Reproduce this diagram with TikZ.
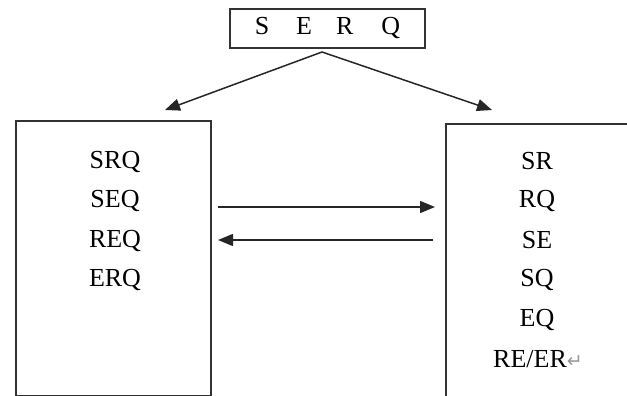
\documentclass[tikz,border=0pt]{standalone}
\usepackage{fontspec}
\setmainfont{Liberation Serif}
\newfontfamily\symfont{DejaVu Sans}
\usetikzlibrary{arrows.meta}
\usetikzlibrary{positioning}

\tikzset{
  box/.style={draw=black!80,line width=1.6pt,inner sep=0pt},
  item/.style={font=\fontsize{26}{30}\selectfont,inner sep=0pt},
  link/.style={line width=1.5pt,draw=black!85,-{Triangle[length=15pt,width=12pt]}}
}

\begin{document}
\begin{tikzpicture}[x=1pt,y=-1pt]
\useasboundingbox (0,0) rectangle (627,396);
\clip (0,0) rectangle (627,396);
% top box
\node[box,minimum width=195pt,minimum height=39pt,item] (T) at (327.5,28.5)
  {S\hspace{27pt}E\hspace{24pt}R\hspace{28pt}Q};
% the two lists
\node[box,minimum width=195pt,minimum height=275pt,anchor=north west] (L) at (15,120) {};
\node[box,minimum width=200pt,minimum height=300pt,anchor=north west] (R) at (445,123) {};
\foreach \t [count=\i] in {SRQ,SEQ,REQ,ERQ}
  \node[item] (l\i) at (115,{122+39.5*\i}) {\t};
\foreach \t [count=\i] in {SR,RQ,SE,SQ,EQ}
  \node[item] (r\i) at (537,{122+39.5*\i}) {\t};
\node[item] (r6) at (538,359) {RE/ER{\symfont\fontsize{19}{19}\selectfont\color{black!40}↵}};
% arrows
\coordinate (apex) at (322,52);
\coordinate (tl) at (165,110);
\coordinate (tr) at (492,110);
\draw[link] (apex) -- (tl);
\draw[link] (apex) -- (tr);
\coordinate (a1) at (218,207);
\coordinate (a2) at (435,207);
\coordinate (b1) at (433,240);
\coordinate (b2) at (218,240);
\draw[link] (a1) -- (a2);
\draw[link] (b1) -- (b2);
\end{tikzpicture}
\end{document}
